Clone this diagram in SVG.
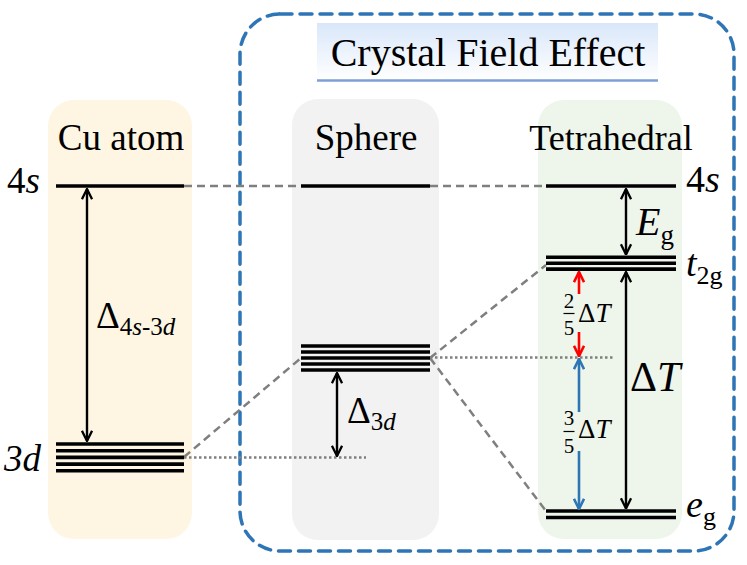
<svg xmlns="http://www.w3.org/2000/svg" width="747" height="565" viewBox="0 0 747 565" font-family="'Liberation Serif', 'DejaVu Serif', serif">
<style>
text{font-family:'Liberation Serif','DejaVu Serif',serif;fill:#000}
.i{font-style:italic}
.lvl{stroke:#000;stroke-width:3.6;fill:none}
.dash{stroke:#7f7f7f;stroke-width:2.5;stroke-dasharray:8 5;fill:none}
.dot{stroke:#7f7f7f;stroke-width:2.5;stroke-dasharray:2.5 2.5;fill:none}
.arr{stroke:#000;stroke-width:2.4;fill:none}
</style>
<defs>
<linearGradient id="tg" x1="0" y1="0" x2="0" y2="1">
<stop offset="0" stop-color="#d9e7fa"/>
<stop offset="1" stop-color="#ffffff"/>
</linearGradient>
<marker id="ak" viewBox="0 0 10 10" refX="9.5" refY="5" markerWidth="12" markerHeight="12" markerUnits="userSpaceOnUse" orient="auto-start-reverse">
<path d="M1,0.8 L9.5,5 L1,9.2" fill="none" stroke="#000" stroke-width="1.9"/>
</marker>
<marker id="ar" viewBox="0 0 10 10" refX="9.5" refY="5" markerWidth="12" markerHeight="12" markerUnits="userSpaceOnUse" orient="auto-start-reverse">
<path d="M1,0.8 L9.5,5 L1,9.2" fill="none" stroke="#ff0000" stroke-width="2.2"/>
</marker>
<marker id="ab" viewBox="0 0 10 10" refX="9.5" refY="5" markerWidth="12" markerHeight="12" markerUnits="userSpaceOnUse" orient="auto-start-reverse">
<path d="M1,0.8 L9.5,5 L1,9.2" fill="none" stroke="#2e75b6" stroke-width="2.2"/>
</marker>
</defs>

<!-- panels -->
<g id="panel-cu">
<rect x="48" y="100" width="144" height="439" rx="26" fill="#fef6e3"/>
<text x="121" y="150" font-size="37" text-anchor="middle">Cu atom</text>
</g>
<g id="panel-sphere">
<rect x="292" y="99" width="147" height="441" rx="26" fill="#f2f2f2"/>
<text x="366" y="150" font-size="37" text-anchor="middle">Sphere</text>
</g>
<g id="panel-tetra">
<rect x="538" y="100" width="144" height="439" rx="26" fill="#eef5eb"/>
<text x="611" y="150" font-size="36" text-anchor="middle">Tetrahedral</text>
</g>

<!-- crystal field box -->
<g id="cf-box">
<rect x="240" y="14" width="494" height="537" rx="40" fill="none" stroke="#2e75b6" stroke-width="3.5" stroke-dasharray="12 8" stroke-linecap="round"/>
<rect x="317" y="23" width="341" height="57" fill="url(#tg)"/>
<line x1="317" y1="80.5" x2="658" y2="80.5" stroke="#7f9fd6" stroke-width="2.5"/>
<text x="488" y="66" font-size="40" text-anchor="middle">Crystal Field Effect</text>
</g>

<!-- connectors -->
<g id="connectors">
<line class="dash" x1="184" y1="186" x2="301" y2="186"/>
<line class="dash" x1="430" y1="186" x2="546" y2="186"/>
<line class="dash" x1="184" y1="457" x2="301" y2="358"/>
<line class="dot" x1="184" y1="457.5" x2="366" y2="457.5"/>
<line class="dash" x1="430" y1="358" x2="546" y2="265"/>
<line class="dash" x1="430" y1="358" x2="546" y2="511"/>
<line class="dot" x1="430" y1="357.5" x2="615" y2="357.5"/>
</g>

<!-- Cu levels -->
<g id="cu-levels">
<line class="lvl" x1="56" y1="186" x2="184" y2="186" stroke-width="3"/>
<line class="lvl" x1="56" y1="444" x2="184" y2="444"/>
<line class="lvl" x1="56" y1="450.7" x2="184" y2="450.7"/>
<line class="lvl" x1="56" y1="457.4" x2="184" y2="457.4"/>
<line class="lvl" x1="56" y1="464.1" x2="184" y2="464.1"/>
<line class="lvl" x1="56" y1="470.8" x2="184" y2="470.8"/>
<text x="7" y="193" font-size="37">4<tspan class="i">s</tspan></text>
<text x="4" y="471" font-size="37" class="i">3d</text>
<line class="arr" x1="87" y1="189" x2="87" y2="441" marker-start="url(#ak)" marker-end="url(#ak)"/>
<text x="96" y="328" font-size="37">Δ<tspan font-size="25" dy="7">4<tspan class="i">s</tspan>-3<tspan class="i">d</tspan></tspan></text>
</g>

<!-- Sphere levels -->
<g id="sphere-levels">
<line class="lvl" x1="301" y1="186" x2="430" y2="186" stroke-width="3"/>
<line class="lvl" x1="301" y1="346" x2="430" y2="346"/>
<line class="lvl" x1="301" y1="352" x2="430" y2="352"/>
<line class="lvl" x1="301" y1="358" x2="430" y2="358"/>
<line class="lvl" x1="301" y1="364" x2="430" y2="364"/>
<line class="lvl" x1="301" y1="370" x2="430" y2="370"/>
<line class="arr" x1="337" y1="373" x2="337" y2="456" marker-start="url(#ak)" marker-end="url(#ak)"/>
<text x="347" y="423" font-size="37">Δ<tspan font-size="25" dy="7">3<tspan class="i">d</tspan></tspan></text>
</g>

<!-- Tetrahedral levels -->
<g id="tetra-levels">
<line class="lvl" x1="546" y1="186" x2="676" y2="186" stroke-width="3"/>
<line class="lvl" x1="546" y1="257.3" x2="676" y2="257.3" stroke-width="3.3"/>
<line class="lvl" x1="546" y1="263.2" x2="676" y2="263.2" stroke-width="3.3"/>
<line class="lvl" x1="546" y1="269.1" x2="676" y2="269.1" stroke-width="3.3"/>
<line class="lvl" x1="546" y1="511" x2="676" y2="511" stroke-width="3.3"/>
<line class="lvl" x1="546" y1="517.5" x2="676" y2="517.5" stroke-width="3.3"/>
<line class="arr" x1="626" y1="189" x2="626" y2="254.5" marker-start="url(#ak)" marker-end="url(#ak)"/>
<line class="arr" x1="626" y1="272" x2="626" y2="508.5" marker-start="url(#ak)" marker-end="url(#ak)"/>
<line x1="579" y1="294" x2="579" y2="272" stroke="#ff0000" stroke-width="2.6" marker-end="url(#ar)"/>
<line x1="579" y1="332" x2="579" y2="356" stroke="#ff0000" stroke-width="2.6" marker-end="url(#ar)"/>
<line x1="579" y1="412" x2="579" y2="359" stroke="#2e75b6" stroke-width="2.6" marker-end="url(#ab)"/>
<line x1="579" y1="451" x2="579" y2="509" stroke="#2e75b6" stroke-width="2.6" marker-end="url(#ab)"/>
<text x="569" y="308" font-size="21" text-anchor="middle">2</text>
<line x1="563.5" y1="313.5" x2="574.5" y2="313.5" stroke="#000" stroke-width="1.2"/>
<text x="569" y="335" font-size="21" text-anchor="middle">5</text>
<text x="578" y="322" font-size="27">Δ<tspan class="i">T</tspan></text>
<text x="569" y="425" font-size="21" text-anchor="middle">3</text>
<line x1="563.5" y1="431.5" x2="574.5" y2="431.5" stroke="#000" stroke-width="1.2"/>
<text x="569" y="453" font-size="21" text-anchor="middle">5</text>
<text x="578" y="438" font-size="27">Δ<tspan class="i">T</tspan></text>
<text x="686" y="192" font-size="38">4<tspan class="i">s</tspan></text>
<text x="636" y="235" font-size="40" class="i">E<tspan font-size="27" font-style="normal" dy="9">g</tspan></text>
<text x="686" y="276" font-size="38" class="i">t<tspan font-size="26" font-style="normal" dy="8">2g</tspan></text>
<text x="630" y="391" font-size="42">Δ<tspan class="i">T</tspan></text>
<text x="686" y="517" font-size="38" class="i">e<tspan font-size="26" font-style="normal" dy="8">g</tspan></text>
</g>
</svg>
